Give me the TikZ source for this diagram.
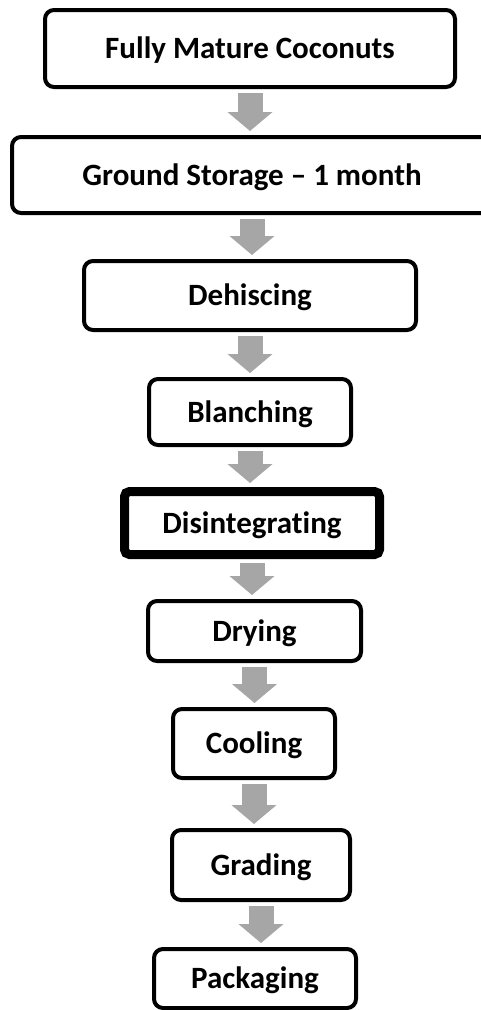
\documentclass[tikz,border=0pt]{standalone}
\usepackage{fontspec}
\setmainfont{Carlito}[Ligatures=NoCommon]
\usepackage{tikz}
\usetikzlibrary{arrows.meta,positioning}
\definecolor{flow_gray}{RGB}{166,166,166}

\begin{document}
\begin{tikzpicture}[x=1pt, y=-1pt,
    stage/.style={draw, rounded corners=9pt, line width=4pt, inner sep=0pt,
      font=\fontsize{31}{34}\selectfont\bfseries, text height=20pt, text depth=0pt},
    flow/.style={draw=flow_gray, line width=25pt,
      -{Triangle[length=19pt, width=44pt, fill=flow_gray]}}]
  \clip (0,0) rectangle (481,1010);
  \fill[white] (0,0) rectangle (481,1010);
  % process steps, top to bottom
  \node[stage, minimum width=410, minimum height=77] (coconuts) at (250,48.5) {Fully Mature Coconuts};
  \node[stage, minimum width=480, minimum height=76] (storage) at (252,175) {Ground Storage -- 1 month};
  \node[stage, minimum width=332, minimum height=69] (dehisc) at (250,295.5) {Dehiscing};
  \node[stage, minimum width=202, minimum height=66] (blanch) at (250,412) {Blanching};
  \node[stage, line width=9pt, rounded corners=5pt, minimum width=255, minimum height=63] (disint) at (252,523) {Disintegrating};
  \node[stage, minimum width=213, minimum height=60] (dry) at (254.5,631) {Drying};
  \node[stage, minimum width=162, minimum height=69] (cool) at (254,743.5) {Cooling};
  \node[stage, minimum width=178, minimum height=70] (grade) at (261,865) {Grading};
  \node[stage, minimum width=202, minimum height=59] (pack) at (255,978.5) {Packaging};
  % grey block arrows between steps
  \foreach \a/\b in {coconuts/storage, storage/dehisc, dehisc/blanch, blanch/disint,
                     disint/dry, dry/cool, cool/grade, grade/pack}
    \draw[flow] ([yshift=-4pt]\a.south) -- ([yshift=4pt]\a.south |- \b.north);
\end{tikzpicture}
\end{document}
